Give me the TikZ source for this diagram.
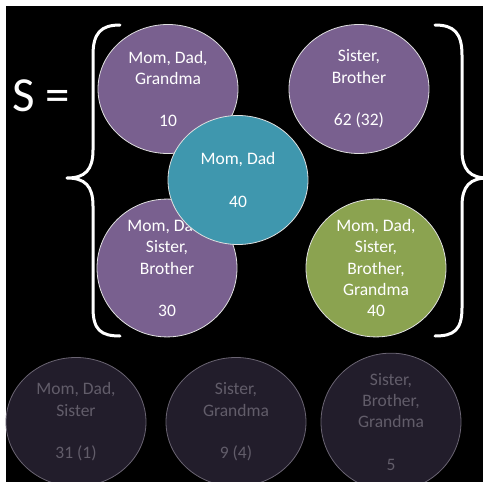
\documentclass[tikz,border=0pt]{standalone}
\usepackage{fontspec}
\setmainfont{Carlito}
\usetikzlibrary{shapes.geometric}
\definecolor{setpurple}{HTML}{79608F}
\definecolor{setteal}{HTML}{3F97AE}
\definecolor{setgreen}{HTML}{8BA350}
\definecolor{dimfill}{HTML}{221D2B}
\definecolor{dimline}{HTML}{6A6472}
\definecolor{dimtext}{HTML}{625D6A}
\begin{document}
\begin{tikzpicture}[x=1pt,y=-1pt,
  blob/.style={ellipse, minimum width=140pt, minimum height=129pt, inner sep=0pt,
    draw=white!88!black, line width=0.8pt, text=white, align=center,
    font=\fontsize{17.5}{21.3}\selectfont},
  purpleblob/.style={blob, fill=setpurple},
  tealblob/.style={blob, fill=setteal},
  greenblob/.style={blob, fill=setgreen},
  dimblob/.style={blob, fill=dimfill, draw=dimline, text=dimtext},
  brace/.style={draw=white, line width=3pt, line cap=round, line join=round}]
  % page and dark backdrop
  \useasboundingbox (0,0) rectangle (483,482);
  \fill[white] (0,0) rectangle (483,482);
  \fill[black] (6,6) rectangle (483,482);

  % the set label
  \node[text=white, font=\fontsize{49}{54}\selectfont, anchor=base west, inner sep=0pt] (lbl) at (12,111) {S =};

  % curly braces around the set
  \draw[brace] (120,25) .. controls (101,25) and (93,33) .. (93,55)
    -- (93,150) .. controls (93,170) and (85,178) .. (67,178)
    .. controls (85,178) and (93,186) .. (93,206)
    -- (93,308) .. controls (93,330) and (101,336) .. (120,336);
  \draw[brace] (435,25) .. controls (454,25) and (462,33) .. (462,55)
    -- (462,150) .. controls (462,170) and (470,178) .. (488,178)
    .. controls (470,178) and (462,186) .. (462,206)
    -- (462,308) .. controls (462,330) and (454,336) .. (435,336);

  % members of the set
  \node[purpleblob] (mdg) at (168,89) {Mom, Dad,\\Grandma\\~\\10};
  \node[purpleblob] (sb) at (359,89) {Sister,\\Brother\\~\\62 (32)};
  \node[purpleblob] (mdsb) at (167,268) {Mom, Dad,\\Sister,\\Brother\\~\\30};
  \node[tealblob] (md) at (238,180) {Mom, Dad\\~\\40};
  \node[greenblob] (all) at (376,268) {Mom, Dad,\\Sister,\\Brother,\\Grandma\\40};

  % groups outside the set
  \node[dimblob] (mds) at (76,422) {Mom, Dad,\\Sister\\~\\31 (1)};
  \node[dimblob] (sg) at (236,422) {Sister,\\Grandma\\~\\9 (4)};
  \node[dimblob] (sbg) at (391,422) {Sister,\\Brother,\\Grandma\\~\\5};
\end{tikzpicture}
\end{document}
